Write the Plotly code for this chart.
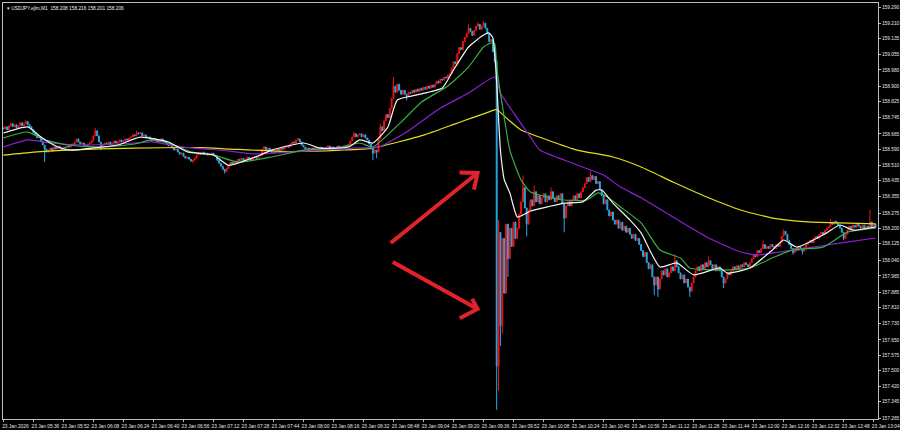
import pandas as pd
import plotly.graph_objects as go

SESSION_DATE = "2026-01-23"
FIRST_BAR = "05:20"
SYMBOL_TEXT = "▾ USDJPY.ejlm,M1  158.208 158.216 158.201 158.206"

first_open = 158.695

# one close per M1 bar, 05:20 .. 13:05
closes = [
    158.690, 158.700, 158.685, 158.705, 158.715, 158.700, 158.710, 158.695, 158.705, 158.720,
    158.705, 158.715, 158.725, 158.710, 158.700,
    158.685, 158.670, 158.660, 158.645, 158.650, 158.630, 158.610, 158.590, 158.575, 158.585, 158.595,
    158.580, 158.600, 158.590, 158.605, 158.595, 158.585, 158.600, 158.595,
    158.605, 158.600, 158.615, 158.610, 158.625, 158.640, 158.625, 158.615, 158.620, 158.610, 158.605, 158.615, 158.620,
    158.630, 158.655, 158.680, 158.655, 158.625, 158.600,
    158.610, 158.620, 158.615, 158.625, 158.610, 158.620, 158.630, 158.620, 158.625, 158.635, 158.625, 158.630, 158.640, 158.635, 158.645,
    158.650, 158.660, 158.655, 158.670, 158.665, 158.670, 158.655, 158.660, 158.645,
    158.650, 158.640, 158.630, 158.640, 158.635, 158.625, 158.635, 158.640, 158.630, 158.625, 158.615,
    158.605, 158.610, 158.595, 158.585, 158.590, 158.575, 158.565, 158.570, 158.555, 158.545, 158.550, 158.540, 158.530, 158.535, 158.545,
    158.560, 158.570, 158.565, 158.575, 158.565, 158.570, 158.560, 158.565, 158.570, 158.560, 158.555,
    158.535, 158.520, 158.505, 158.490, 158.480, 158.495, 158.510, 158.525,
    158.515, 158.530, 158.525, 158.540, 158.535, 158.545, 158.530, 158.540, 158.550, 158.545, 158.535, 158.545, 158.550, 158.545, 158.555, 158.560,
    158.590, 158.600, 158.585, 158.595, 158.580, 158.575,
    158.570, 158.580, 158.590, 158.585, 158.595, 158.590, 158.600, 158.605, 158.600,
    158.615, 158.625, 158.620, 158.635, 158.640, 158.625,
    158.610, 158.600, 158.590, 158.595, 158.585, 158.595,
    158.590, 158.600, 158.595, 158.590, 158.600, 158.595, 158.590, 158.600, 158.605, 158.595,
    158.600, 158.590, 158.595, 158.605, 158.600, 158.595, 158.600, 158.605, 158.600,
    158.615, 158.630, 158.650, 158.665, 158.650, 158.660, 158.665, 158.650, 158.660, 158.645, 158.635,
    158.615, 158.590, 158.570, 158.585, 158.575,
    158.640, 158.700, 158.680, 158.730, 158.760, 158.745, 158.790,
    158.840, 158.900, 158.870, 158.910, 158.880, 158.860,
    158.880, 158.860, 158.850, 158.870, 158.865, 158.880, 158.870,
    158.885, 158.875, 158.890, 158.880, 158.895, 158.885, 158.900, 158.890, 158.905, 158.895,
    158.910, 158.925, 158.915, 158.935, 158.930, 158.945, 158.940, 158.955, 158.960,
    158.990, 159.020, 159.010, 159.060, 159.090, 159.080, 159.120, 159.140,
    159.160, 159.185, 159.170, 159.150, 159.175, 159.195, 159.205, 159.180, 159.195, 159.210, 159.185,
    159.160, 159.120, 159.130, 159.070, 159.020,
    157.520, 158.180, 157.720, 158.150, 157.880, 158.220, 158.050, 158.200, 158.110, 158.230, 158.150, 158.200, 158.270,
    158.330, 158.400, 158.300, 158.220, 158.290, 158.340, 158.310, 158.380, 158.330, 158.360,
    158.320, 158.350, 158.370, 158.330, 158.360, 158.340, 158.380, 158.350, 158.330, 158.360,
    158.340, 158.370, 158.320, 158.250, 158.310, 158.330, 158.310, 158.340, 158.360, 158.340,
    158.370, 158.350, 158.380, 158.400,
    158.420, 158.450, 158.430, 158.460, 158.440, 158.455, 158.420, 158.430, 158.390, 158.360,
    158.320, 158.340, 158.290, 158.260, 158.280, 158.240, 158.220, 158.240, 158.200, 158.230,
    158.190, 158.210, 158.180, 158.200, 158.170, 158.150, 158.170, 158.140, 158.150, 158.120,
    158.090, 158.060, 158.080, 158.030, 158.000, 158.020, 157.960, 157.920, 157.960, 157.900,
    157.950, 157.990, 157.970, 158.000, 157.960, 157.980, 158.010, 157.990, 158.040, 158.010,
    157.980, 157.950, 157.970, 157.930, 157.950, 157.910, 157.890, 157.930, 157.960,
    157.990, 158.010, 157.990, 158.020, 158.000, 158.030, 158.010, 158.040, 158.020, 158.000,
    158.020, 157.990, 158.010, 157.990,
    157.960, 157.930, 157.950, 157.980, 157.970,
    157.990, 158.010, 157.995, 158.015, 158.000, 158.020, 158.010, 158.030, 158.020, 158.010, 158.030,
    158.050, 158.070, 158.060, 158.090, 158.080, 158.100, 158.120, 158.100, 158.110,
    158.100, 158.120, 158.110, 158.100, 158.120, 158.110, 158.130,
    158.160, 158.185, 158.170, 158.140,
    158.120, 158.100, 158.080, 158.100, 158.090, 158.110, 158.100, 158.085, 158.105, 158.120,
    158.130, 158.140, 158.130, 158.150, 158.160, 158.150, 158.170, 158.180, 158.170, 158.190, 158.200,
    158.210, 158.230, 158.220, 158.235, 158.225, 158.215, 158.200,
    158.180, 158.150, 158.170, 158.190, 158.210, 158.200,
    158.215, 158.205, 158.220, 158.210, 158.200, 158.215, 158.195, 158.210, 158.200,
    158.230, 158.200, 158.220, 158.205,
]

# wicks that reach beyond the candle body (bar number -> price)
wick_highs = {12: 158.733, 49: 158.695, 71: 158.680, 139: 158.605, 157: 158.645, 187: 158.675,
              201: 158.715, 208: 158.945, 248: 159.205, 253: 159.215, 256: 159.220, 263: 159.030,
              264: 158.240, 277: 158.460, 283: 158.410, 292: 158.400, 313: 158.480, 358: 158.070,
              376: 158.060, 405: 158.140, 416: 158.195, 441: 158.245, 462: 158.290}
wick_lows = {22: 158.526, 52: 158.585, 101: 158.521, 118: 158.470, 197: 158.535, 199: 158.545,
             215: 158.830, 263: 157.305, 264: 157.400, 265: 157.620, 266: 157.680, 269: 157.960,
             279: 158.160, 299: 158.180, 347: 157.870, 349: 157.862, 366: 157.862, 384: 157.905,
             421: 158.070, 426: 158.070, 448: 158.140}

white_t = ["05:20", "05:33", "05:40", "05:49", "05:56", "06:12", "06:21", "06:33", "06:48", "06:58",
           "07:12", "07:20", "07:37", "07:43", "08:00", "08:09", "08:24", "08:30", "08:37", "08:45",
           "08:50", "09:00", "09:14", "09:20", "09:28", "09:36", "09:39", "09:41", "09:43", "09:44",
           "09:45", "09:46", "09:47", "09:50", "09:54", "09:58", "10:01", "10:10", "10:19", "10:29",
           "10:36", "10:39", "10:45", "10:54", "11:00", "11:10", "11:19", "11:28", "11:42", "11:46",
           "11:58", "12:10", "12:16", "12:23", "12:39", "12:46", "12:53", "13:05"]
white_p = [158.669, 158.699, 158.649, 158.600, 158.585, 158.600, 158.610, 158.649, 158.625, 158.576,
           158.561, 158.510, 158.561, 158.585, 158.620, 158.595, 158.600, 158.635, 158.620, 158.699,
           158.832, 158.856, 158.891, 158.980, 159.093, 159.152, 159.162, 159.137, 158.920, 158.740,
           158.585, 158.500, 158.440, 158.374, 158.255, 158.270, 158.285, 158.305, 158.324, 158.330,
           158.388, 158.388, 158.324, 158.241, 158.177, 158.009, 158.029, 157.970, 158.004, 157.979,
           158.004, 158.093, 158.142, 158.107, 158.177, 158.216, 158.191, 158.206]

green_t = ["05:20", "05:33", "05:42", "05:54", "06:12", "06:30", "06:39", "06:48", "07:00", "07:12",
           "07:25", "07:43", "08:00", "08:18", "08:30", "08:37", "08:52", "09:03", "09:17", "09:28",
           "09:36", "09:40", "09:42", "09:43", "09:46", "09:50", "09:56", "10:01", "10:10", "10:19",
           "10:31", "10:37", "10:42", "10:49", "11:00", "11:10", "11:21", "11:26", "11:44", "11:58",
           "12:11", "12:21", "12:37", "12:50", "13:05"]
green_p = [158.645, 158.674, 158.635, 158.610, 158.600, 158.615, 158.635, 158.620, 158.576, 158.561,
           158.526, 158.551, 158.585, 158.595, 158.620, 158.600, 158.723, 158.822, 158.901, 158.994,
           159.093, 159.113, 159.108, 158.994, 158.807, 158.585, 158.438, 158.378, 158.354, 158.339,
           158.339, 158.374, 158.354, 158.305, 158.226, 158.093, 158.053, 158.004, 157.994, 158.004,
           158.058, 158.093, 158.107, 158.181, 158.201]

purple_t = ["05:20", "05:33", "05:45", "06:03", "06:30", "06:39", "06:56", "07:21", "07:33", "08:09",
            "08:27", "08:40", "08:55", "09:13", "09:28", "09:42", "09:45", "09:52", "10:01", "10:06",
            "10:19", "10:33", "10:40", "10:49", "11:00", "11:17", "11:35", "11:53", "12:02", "12:14",
            "12:29", "12:46", "13:05"]
purple_p = [158.600, 158.635, 158.620, 158.610, 158.620, 158.625, 158.600, 158.580, 158.566, 158.585,
            158.595, 158.600, 158.674, 158.792, 158.866, 158.945, 158.866, 158.768, 158.649, 158.585,
            158.536, 158.487, 158.462, 158.403, 158.350, 158.255, 158.157, 158.083, 158.068, 158.083,
            158.103, 158.127, 158.152]

yellow_t = ["05:20", "05:36", "05:54", "06:30", "07:05", "07:21", "07:52", "08:20", "08:37", "09:04",
            "09:22", "09:42", "09:43", "09:50", "09:56", "10:10", "10:26", "10:45", "11:00", "11:17",
            "11:35", "11:53", "12:10", "12:29", "12:46", "13:05"]
yellow_p = [158.560, 158.575, 158.585, 158.595, 158.597, 158.590, 158.578, 158.585, 158.595, 158.659,
            158.718, 158.783, 158.785, 158.728, 158.684, 158.635, 158.585, 158.551, 158.502, 158.428,
            158.354, 158.290, 158.250, 158.231, 158.226, 158.221]

x_tick_labels = ["23 Jan 2026", "23 Jan 05:36", "23 Jan 05:52", "23 Jan 06:08", "23 Jan 06:24",
                 "23 Jan 06:40", "23 Jan 06:56", "23 Jan 07:12", "23 Jan 07:28", "23 Jan 07:44",
                 "23 Jan 08:00", "23 Jan 08:16", "23 Jan 08:32", "23 Jan 08:48", "23 Jan 09:04",
                 "23 Jan 09:20", "23 Jan 09:36", "23 Jan 09:52", "23 Jan 10:08", "23 Jan 10:24",
                 "23 Jan 10:40", "23 Jan 10:56", "23 Jan 11:12", "23 Jan 11:28", "23 Jan 11:44",
                 "23 Jan 12:00", "23 Jan 12:16", "23 Jan 12:32", "23 Jan 12:48", "23 Jan 13:04"]
y_tick_labels = ["159.290", "159.210", "159.135", "159.055", "158.980", "158.900", "158.825",
                 "158.745", "158.665", "158.590", "158.510", "158.435", "158.355", "158.275",
                 "158.200", "158.125", "158.040", "157.965", "157.885", "157.810", "157.730",
                 "157.650", "157.575", "157.500", "157.420", "157.345", "157.265"]

# red arrows drawn on the chart (time, price)
arrow_up = [("08:46:30", 158.127), ("09:32:48", 158.472)]
arrow_up_head = [("09:23:12", 158.475), ("09:32:48", 158.472), ("09:30:54", 158.390)]
arrow_dn = [("08:47:36", 158.034), ("09:32:48", 157.802)]
arrow_dn_head = [("09:23:18", 157.756), ("09:32:48", 157.802), ("09:29:54", 157.852)]

# ---------------------------------------------------------------------------
t0 = pd.Timestamp(f"{SESSION_DATE} {FIRST_BAR}")
times = pd.date_range(t0, periods=len(closes), freq="min")
opens = [first_open] + closes[:-1]
highs = [max(o, c, wick_highs.get(i, 0.0)) for i, (o, c) in enumerate(zip(opens, closes))]
lows = [min(o, c, wick_lows.get(i, 1e9)) for i, (o, c) in enumerate(zip(opens, closes))]


def to_time(hhmm):
    return pd.Timestamp(f"{SESSION_DATE} {hhmm}")


UP = "#f21212"
DOWN = "#2aa8e4"
AXIS = "#bdbdbd"
FONT = "Liberation Sans, Arial, sans-serif"
FS = 4.8

fig = go.Figure()
fig.add_trace(go.Candlestick(
    x=times, open=opens, high=highs, low=lows, close=closes,
    increasing=dict(line=dict(color=UP, width=1), fillcolor=UP),
    decreasing=dict(line=dict(color=DOWN, width=1), fillcolor=DOWN),
    whiskerwidth=0, hoverinfo="skip", showlegend=False,
))

for t_list, p_list, col in [(yellow_t, yellow_p, "#e0e01c"),
                            (purple_t, purple_p, "#8e1fd6"),
                            (green_t, green_p, "#37b043"),
                            (white_t, white_p, "#f4f4f4")]:
    fig.add_trace(go.Scatter(x=[to_time(t) for t in t_list], y=p_list, mode="lines",
                             line=dict(color=col, width=1.2, shape="spline", smoothing=0.5),
                             hoverinfo="skip", showlegend=False))


def path_of(points):
    parts = []
    for k, (t, p) in enumerate(points):
        ts = to_time(t).strftime("%Y-%m-%d_%H:%M:%S")
        parts.append(("M" if k == 0 else "L") + f"{ts},{p}")
    return " ".join(parts)


shapes = []
for pts in (arrow_up, arrow_up_head, arrow_dn, arrow_dn_head):
    shapes.append(dict(type="path", xref="x", yref="y", path=path_of(pts),
                       line=dict(color="#e3222b", width=4)))

x_start = t0 - pd.Timedelta(seconds=12)
x_end = t0 + pd.Timedelta(minutes=466.3)

fig.update_layout(
    width=900, height=430,
    paper_bgcolor="#000000", plot_bgcolor="#000000",
    margin=dict(l=3, r=22, t=3, b=11, autoexpand=False),
    showlegend=False,
    shapes=shapes,
    font=dict(family=FONT, color="#e6e6e6", size=FS),
    annotations=[dict(text=SYMBOL_TEXT, xref="paper", yref="paper", x=0, y=1,
                      xanchor="left", yanchor="top", xshift=2, yshift=-1, showarrow=False,
                      font=dict(family=FONT, size=FS, color="#f0f0f0"))],
)
fig.update_xaxes(
    type="date", range=[x_start, x_end], rangeslider=dict(visible=False),
    showgrid=False, zeroline=False, showline=True, linecolor=AXIS, linewidth=1, mirror=True,
    ticks="outside", ticklen=2, tickcolor=AXIS, tickwidth=1, tickangle=0, automargin=False,
    tickmode="array", tickvals=list(times[::16]), ticktext=x_tick_labels,
    ticklabelshift=12, ticklabelstandoff=0,
    tickfont=dict(family=FONT, size=FS, color="#e6e6e6"),
)
fig.update_yaxes(
    side="right", range=[157.2601, 159.3097], automargin=False,
    showgrid=False, zeroline=False, showline=True, linecolor=AXIS, linewidth=1, mirror=True,
    ticks="outside", ticklen=2, tickcolor=AXIS, tickwidth=1,
    tickmode="array", tickvals=[float(v) for v in y_tick_labels], ticktext=y_tick_labels,
    tickfont=dict(family=FONT, size=FS, color="#e6e6e6"),
)

fig.write_html(
    "out.html",
    config={"displayModeBar": False},
    post_script="document.body.style.margin='0px';document.body.style.padding='0px';"
                "document.body.style.background='#000';",
)
